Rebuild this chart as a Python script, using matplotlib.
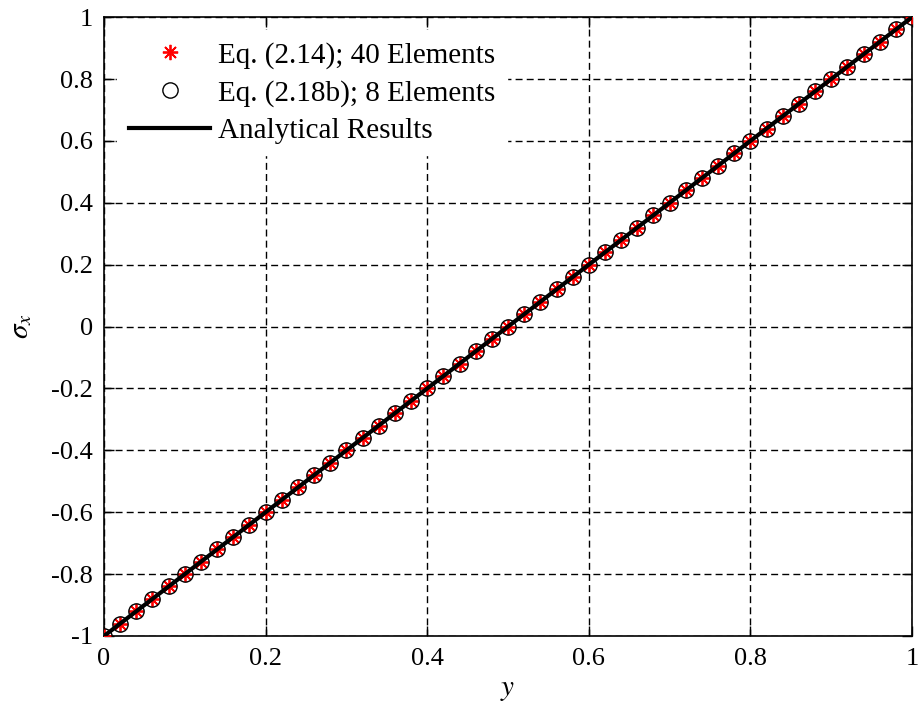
import matplotlib
matplotlib.use("Agg")
import matplotlib.pyplot as plt

# node positions along y (same for both FE solutions here)
y_nodes = [0.00, 0.02, 0.04, 0.06, 0.08, 0.10, 0.12, 0.14, 0.16, 0.18,
           0.20, 0.22, 0.24, 0.26, 0.28, 0.30, 0.32, 0.34, 0.36, 0.38,
           0.40, 0.42, 0.44, 0.46, 0.48, 0.50, 0.52, 0.54, 0.56, 0.58,
           0.60, 0.62, 0.64, 0.66, 0.68, 0.70, 0.72, 0.74, 0.76, 0.78,
           0.80, 0.82, 0.84, 0.86, 0.88, 0.90, 0.92, 0.94, 0.96, 0.98, 1.00]
sig_40 = [-1.00, -0.96, -0.92, -0.88, -0.84, -0.80, -0.76, -0.72, -0.68, -0.64,
          -0.60, -0.56, -0.52, -0.48, -0.44, -0.40, -0.36, -0.32, -0.28, -0.24,
          -0.20, -0.16, -0.12, -0.08, -0.04, 0.00, 0.04, 0.08, 0.12, 0.16,
          0.20, 0.24, 0.28, 0.32, 0.36, 0.40, 0.44, 0.48, 0.52, 0.56,
          0.60, 0.64, 0.68, 0.72, 0.76, 0.80, 0.84, 0.88, 0.92, 0.96, 1.00]
sig_8 = list(sig_40)
y_exact = [0.0, 1.0]
sig_exact = [-1.0, 1.0]

xticks = [0, 0.2, 0.4, 0.6, 0.8, 1]
xticklabels = ["0", "0.2", "0.4", "0.6", "0.8", "1"]
yticks = [-1, -0.8, -0.6, -0.4, -0.2, 0, 0.2, 0.4, 0.6, 0.8, 1]
yticklabels = ["-1", "-0.8", "-0.6", "-0.4", "-0.2", "0", "0.2", "0.4", "0.6", "0.8", "1"]

plt.rcParams['font.family'] = ['Liberation Serif', 'DejaVu Serif']
plt.rcParams['mathtext.fontset'] = 'stix'

fig = plt.figure(figsize=(9.18, 7.13), dpi=100)
ax = fig.add_axes([0.1133, 0.108, 0.8802, 0.868])

ax.plot(y_nodes, sig_40, linestyle='none', marker=(8, 2, 0), color='red',
        markersize=11, markeredgewidth=1.3, label='Eq. (2.14); 40 Elements', zorder=3)
ax.plot(y_nodes, sig_8, linestyle='none', marker='o', markerfacecolor='none',
        markeredgecolor='black', markersize=11, markeredgewidth=1.0,
        label='Eq. (2.18b); 8 Elements', zorder=3)
ax.plot(y_exact, sig_exact, color='black', linewidth=3,
        label='Analytical Results', zorder=4)

ax.set_xlim(0, 1)
ax.set_ylim(-1, 1)
ax.set_xticks(xticks)
ax.set_xticklabels(xticklabels)
ax.set_yticks(yticks)
ax.set_yticklabels(yticklabels)
ax.tick_params(direction='in', top=True, right=True, labelsize=19, length=7, width=1)
ax.tick_params(axis='x', pad=9)
ax.tick_params(axis='y', pad=8)
ax.grid(True, color='black', linestyle=(0, (5, 3)), linewidth=1)
for s in ax.spines.values():
    s.set_linewidth(1.2)

ax.set_xlabel('$y$', fontsize=21, labelpad=5)
ax.set_ylabel(r'$\sigma_x$', fontsize=21, labelpad=12)

leg = ax.legend(loc='upper left', fontsize=21, frameon=True, fancybox=False,
                edgecolor='white', framealpha=1, handlelength=2.8,
                handletextpad=0.25, borderpad=0.4, labelspacing=0.37,
                borderaxespad=0.45)

fig.savefig('out.png', dpi=100)
